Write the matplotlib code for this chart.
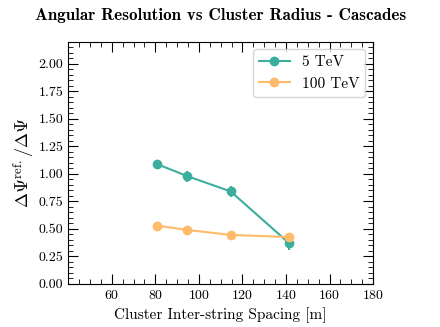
import matplotlib
matplotlib.use("Agg")
from matplotlib import pyplot as plt
from matplotlib.lines import Line2D
from matplotlib.ticker import MultipleLocator

plt.rcParams["font.family"] = "serif"
plt.rcParams["font.serif"] = ["cmr10"]
plt.rcParams["mathtext.fontset"] = "cm"
plt.rcParams["axes.formatter.use_mathtext"] = True
plt.rcParams["axes.unicode_minus"] = False

# Daten
spacing = [80.6, 94.6, 114.6, 141.4]
res_5tev = [1.09, 0.98, 0.84, 0.37]
err_5tev = [0.03, 0.05, 0.05, 0.06]
res_100tev = [0.53, 0.49, 0.445, 0.425]
err_100tev = [0.01, 0.01, 0.01, 0.01]
yticks = [0, 0.25, 0.5, 0.75, 1.0, 1.25, 1.5, 1.75, 2.0]
xticks = [60, 80, 100, 120, 140, 160, 180]

teal = "#3cae9e"
orange = "#ffbb6a"

fig, ax = plt.subplots(figsize=(4.40, 3.27), dpi=100)
fig.subplots_adjust(left=0.155, right=0.848, top=0.872, bottom=0.132)

ax.errorbar(spacing, res_5tev, yerr=err_5tev, color=teal, marker="o",
            markersize=6, lw=1.5, elinewidth=1.5)
ax.errorbar(spacing, res_100tev, yerr=err_100tev, color=orange, marker="o",
            markersize=6, lw=1.5, elinewidth=1.5)

ax.set_xlim(40, 180)
ax.set_ylim(0, 2.2)
ax.set_xticks(xticks)
ax.xaxis.set_minor_locator(MultipleLocator(5))
ax.set_yticks(yticks)
ax.set_yticklabels(["%.2f" % v for v in yticks])
ax.yaxis.set_minor_locator(MultipleLocator(0.05))
ax.tick_params(which="both", direction="in", top=True, right=True, labelsize=10)
ax.tick_params(which="major", length=7)
ax.tick_params(which="minor", length=3.5)

ax.set_xlabel("Cluster Inter-string Spacing [m]", fontsize=11)
ax.set_ylabel(r"$\Delta\Psi^{\rm ref.}/\Delta\Psi$", fontsize=13, labelpad=1)
ax.set_title("Angular Resolution vs Cluster Radius - Cascades",
             fontfamily="cmb10", fontsize=12.3, pad=16)

handles = [Line2D([], [], color=teal, marker="o", markersize=6, lw=1.5),
           Line2D([], [], color=orange, marker="o", markersize=6, lw=1.5)]
ax.legend(handles, ["5 TeV", "100 TeV"], loc="upper right", fontsize=11, frameon=True)

plt.savefig("out.png", dpi=100)
